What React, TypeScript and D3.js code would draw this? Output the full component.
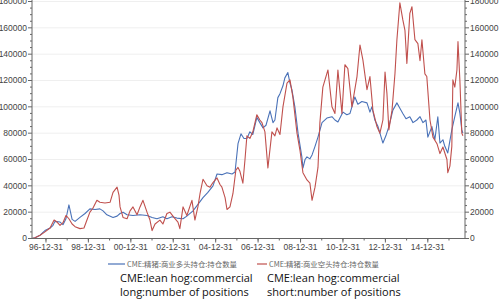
import React from "react";
import * as d3 from "d3";

const longDates = [1996.34,1996.48,1996.72,1996.95,1997.19,1997.33,1997.42,1997.66,1997.80,1997.94,1998.08,1998.23,1998.37,1998.60,1998.84,1999.07,1999.31,1999.54,1999.69,1999.87,2000.16,2000.35,2000.49,2000.63,2000.82,2001.10,2001.43,2001.76,2002.00,2002.23,2002.51,2002.70,2002.94,2003.17,2003.46,2003.64,2003.93,2004.12,2004.40,2004.63,2004.87,2005.06,2005.29,2005.53,2005.77,2005.91,2006.05,2006.19,2006.33,2006.47,2006.61,2006.75,2006.94,2007.08,2007.23,2007.37,2007.56,2007.70,2007.79,2007.93,2008.03,2008.17,2008.26,2008.40,2008.50,2008.59,2008.73,2008.88,2009.06,2009.11,2009.21,2009.30,2009.44,2009.54,2009.68,2009.82,2010.01,2010.24,2010.48,2010.62,2010.76,2011.00,2011.18,2011.33,2011.56,2011.70,2011.89,2012.13,2012.27,2012.36,2012.50,2012.65,2012.74,2012.88,2013.02,2013.16,2013.35,2013.54,2013.68,2013.82,2013.97,2014.15,2014.30,2014.48,2014.63,2014.77,2014.91,2015.00,2015.19,2015.33,2015.47,2015.57,2015.71,2015.80,2015.94,2016.13,2016.27,2016.42,2016.51,2016.60,2016.65];
const longValues = [0,500,2500,6000,8000,10000,13000,12500,10500,15000,25500,14500,13000,16000,19000,22500,22000,22500,21000,18000,16000,17000,19000,20000,18000,17500,18000,17500,16000,15000,16500,15000,16500,15500,15000,17000,21000,25000,31000,35000,40000,49000,48500,50000,49000,50500,72000,79500,76000,76000,81000,79000,92000,88000,84000,86000,97000,88000,90000,107000,110000,116000,122000,126000,118000,113000,100000,80000,62000,53500,60000,62000,60500,63500,70000,77000,88000,91500,92500,90000,88500,96000,94000,95000,107500,102000,104000,103000,96000,100000,90000,85000,80000,72500,78000,85000,97500,103000,99000,95000,91000,92500,88000,90000,92500,88000,90000,77000,85000,75000,92500,72500,75000,70000,65000,82500,92500,103000,95000,82500,80000];

const shortDates = [1996.34,1996.48,1996.72,1996.95,1997.19,1997.38,1997.52,1997.66,1997.80,1997.94,1998.08,1998.23,1998.37,1998.60,1998.79,1998.93,1999.07,1999.21,1999.40,1999.54,1999.78,2000.02,2000.16,2000.35,2000.44,2000.49,2000.63,2000.82,2000.96,2001.10,2001.29,2001.43,2001.57,2001.76,2001.90,2002.00,2002.14,2002.37,2002.51,2002.70,2002.84,2003.03,2003.22,2003.31,2003.46,2003.64,2003.88,2004.02,2004.16,2004.26,2004.40,2004.59,2004.73,2004.87,2005.06,2005.20,2005.29,2005.44,2005.53,2005.67,2005.81,2005.95,2006.05,2006.14,2006.28,2006.38,2006.47,2006.61,2006.75,2006.94,2007.08,2007.18,2007.32,2007.46,2007.65,2007.79,2007.89,2008.03,2008.17,2008.36,2008.50,2008.64,2008.83,2008.97,2009.11,2009.30,2009.44,2009.54,2009.68,2009.82,2009.91,2010.05,2010.29,2010.48,2010.62,2010.76,2010.95,2011.09,2011.23,2011.42,2011.66,2011.80,2011.94,2012.13,2012.27,2012.41,2012.60,2012.74,2012.88,2012.98,2013.07,2013.16,2013.31,2013.45,2013.54,2013.68,2013.82,2013.92,2014.01,2014.15,2014.25,2014.39,2014.53,2014.63,2014.72,2014.86,2014.95,2015.10,2015.24,2015.43,2015.57,2015.71,2015.90,2015.94,2016.04,2016.13,2016.18,2016.27,2016.37,2016.42,2016.51,2016.60,2016.65];
const shortValues = [0,500,2500,5000,8000,14000,12500,10000,12000,17500,15000,11000,9000,7500,8000,14000,20000,23000,29000,27500,27000,27500,35000,39000,33000,24000,16000,15000,21000,24000,18000,24000,29000,20000,14000,6000,11000,14000,11000,19000,20000,16000,12500,7500,24000,17500,29000,14000,24000,34000,45000,40000,39000,42500,46000,41000,39000,31000,22000,24000,34000,52000,54000,51000,42000,60000,78000,76000,81000,94000,90000,88000,81000,53500,81000,78000,84000,79000,100000,118000,120500,107000,80000,67000,50000,44500,42000,29000,39000,54000,88000,115000,128000,100000,95000,128000,95000,132000,129000,100000,123000,147000,135500,113000,123000,97500,85000,80000,90000,126500,110000,82500,97500,125500,151000,179000,166000,158000,133000,171000,176000,151000,148000,135000,151000,125000,123000,90000,77000,72000,64500,69500,60000,50000,55000,70000,120500,115000,128000,149500,120000,80000,78000];

const yTicks = [0,20000,40000,60000,80000,100000,120000,140000,160000,180000];
const xTickYears = [1996,1998,2000,2002,2004,2006,2008,2010,2012,2014];
const legendCn = ["CME:精猪:商业多头持仓:持仓数量", "CME:精猪:商业空头持仓:持仓数量"];
const legendEn = [["CME:lean hog:commercial", "long:number of positions"], ["CME:lean hog:commercial", "short:number of positions"]];
const colors = ["#4a72b8", "#c0504d"];

function toDate(y: number): Date {
  const yr = Math.floor(y);
  const start = new Date(yr, 0, 1).getTime();
  const end = new Date(yr + 1, 0, 1).getTime();
  return new Date(start + (y - yr) * (end - start));
}

export default function App() {
  const W = 500, H = 300;
  const left = 32, right = 465, top = 1.5, bottom = 238.5;
  const x = d3.scaleTime().domain([toDate(1996.34), toDate(2016.75)]).range([left, right]);
  const y = d3.scaleLinear().domain([0, 180000]).range([bottom, top]);
  const line = d3.line<[number, number]>().x(d => x(toDate(d[0]))).y(d => y(d[1]));
  const longData = longDates.map((d, i) => [d, longValues[i]] as [number, number]);
  const shortData = shortDates.map((d, i) => [d, shortValues[i]] as [number, number]);
  const minorY = d3.range(0, 180001, 5000);
  const fmt = d3.timeFormat("%y-%m-%d");
  const majorX = xTickYears.map(yr => new Date(yr, 11, 31));
  const minorX = d3.range(1996, 2016).map(yr => new Date(yr, 11, 31));
  const axisColor = "#666";
  const font = "Liberation Sans, Arial, sans-serif";
  return (
    <svg width={W} height={H} style={{ position: "absolute", left: 0, top: 0, background: "#fff" }}>
      {yTicks.slice(1).map(t => (
        <line key={"g" + t} x1={left} x2={right} y1={y(t)} y2={y(t)} stroke="#efefef" strokeWidth={1} />
      ))}
      <path d={line(longData) || ""} fill="none" stroke={colors[0]} strokeWidth={1.1} strokeLinejoin="round" />
      <path d={line(shortData) || ""} fill="none" stroke={colors[1]} strokeWidth={1.1} strokeLinejoin="round" />
      <line x1={left} x2={left} y1={0} y2={bottom} stroke={axisColor} strokeWidth={1} />
      <line x1={right} x2={right} y1={0} y2={bottom} stroke={axisColor} strokeWidth={1} />
      <line x1={left} x2={right} y1={bottom} y2={bottom} stroke={axisColor} strokeWidth={1} />
      {minorY.map(t => {
        const major = t % 20000 === 0;
        const len = major ? 4 : 2;
        return (
          <g key={"m" + t}>
            <line x1={left} x2={left - len} y1={y(t)} y2={y(t)} stroke={axisColor} />
            <line x1={right} x2={right + len} y1={y(t)} y2={y(t)} stroke={axisColor} />
          </g>
        );
      })}
      {yTicks.map(t => (
        <g key={"l" + t} fontFamily={font} fontSize={8.5} fill="#444">
          <text x={left - 5} y={y(t)} dy="0.35em" textAnchor="end">{t}</text>
          <text x={right + 5} y={y(t)} dy="0.35em" textAnchor="start">{t}</text>
        </g>
      ))}
      {minorX.map(d => (
        <line key={"xm" + d.getTime()} x1={x(d)} x2={x(d)} y1={bottom} y2={bottom + 2} stroke={axisColor} />
      ))}
      {majorX.map(d => (
        <g key={"xt" + d.getTime()}>
          <line x1={x(d)} x2={x(d)} y1={bottom} y2={bottom + 4} stroke={axisColor} />
          <text x={x(d)} y={bottom + 11} textAnchor="middle" fontFamily={font} fontSize={8.5} fill="#444">{fmt(d)}</text>
        </g>
      ))}
      <g>
        <line x1={108} x2={125} y1={264} y2={264} stroke={colors[0]} strokeWidth={1.2} />
        <text x={127} y={264} dy="0.35em" fontFamily="Noto Sans CJK SC, sans-serif" fontSize={7.4} fill="#666">{legendCn[0]}</text>
        <line x1={257} x2={267} y1={264} y2={264} stroke={colors[1]} strokeWidth={1.2} />
        <text x={269} y={264} dy="0.35em" fontFamily="Noto Sans CJK SC, sans-serif" fontSize={7.4} fill="#666">{legendCn[1]}</text>
      </g>
      {legendEn.map((lines, i) => (
        <g key={"en" + i} fontFamily="Open Sans, sans-serif" fontSize={11} fill="#111">
          {lines.map((s, j) => (
            <text key={j} x={i === 0 ? 120 : 267} y={282 + j * 14}>{s}</text>
          ))}
        </g>
      ))}
    </svg>
  );
}
